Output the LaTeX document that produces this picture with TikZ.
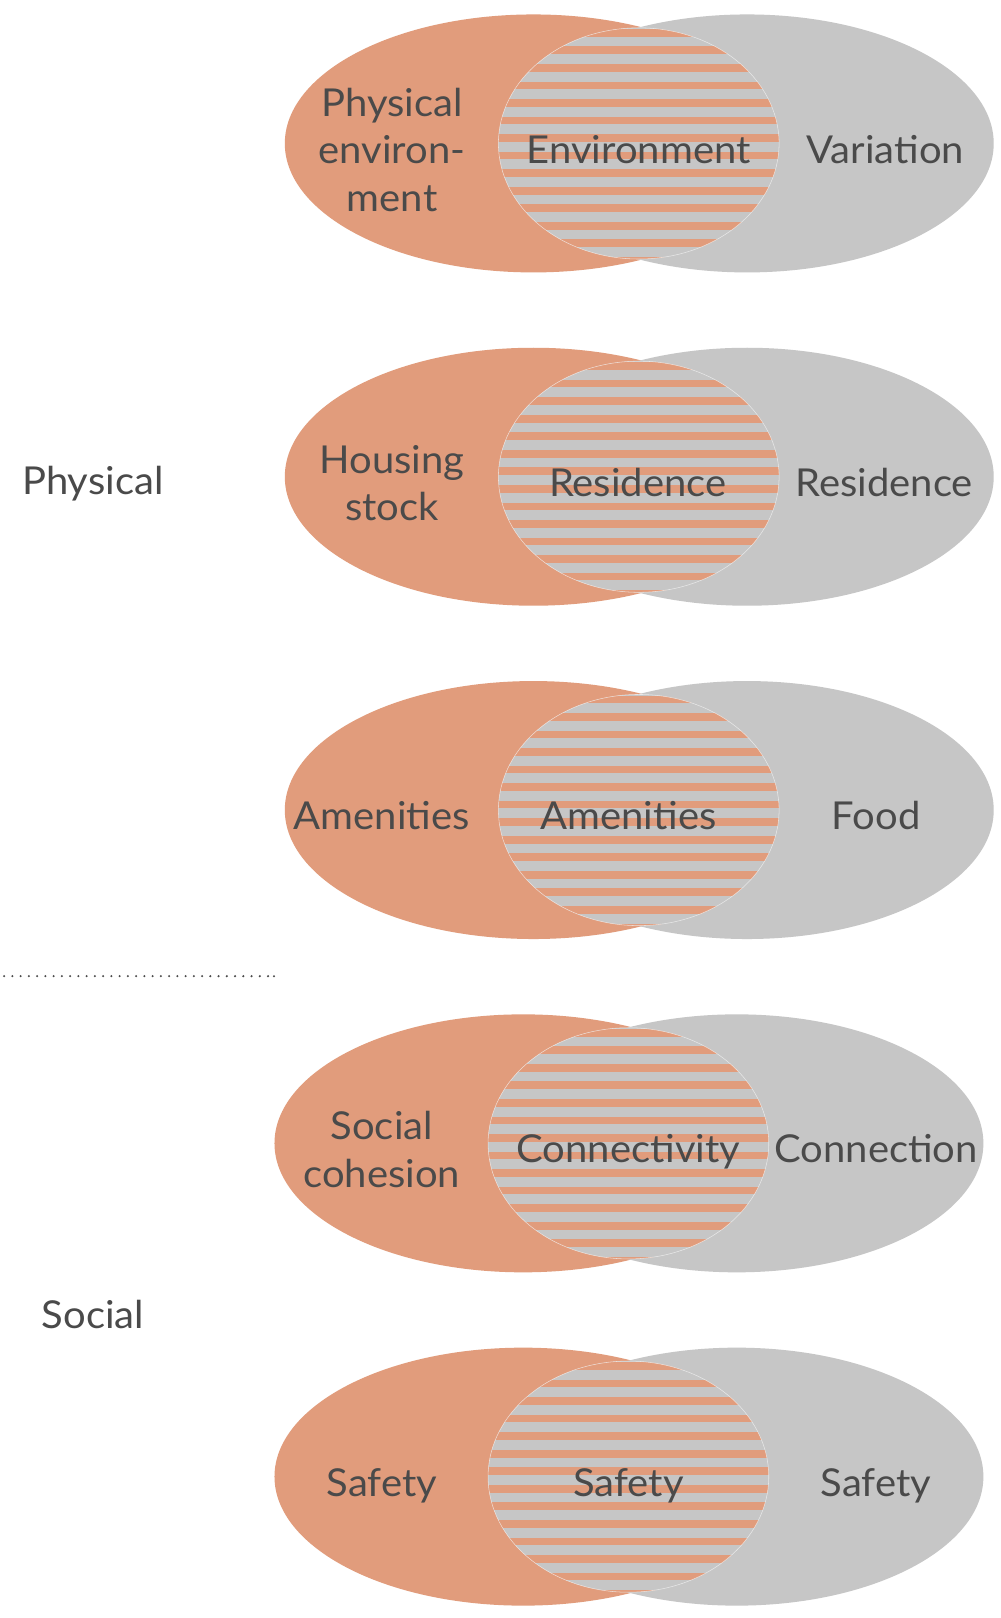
\documentclass[tikz,border=0pt]{standalone}
\usepackage{fontspec}
\setmainfont{Lato}[FakeStretch=1.04]
\definecolor{venorange}{HTML}{E19C7C}
\definecolor{vengray}{HTML}{C6C6C6}
\definecolor{txtgray}{HTML}{4A4A4A}
% #1 = x centre of striped ellipse, #2 = y centre (downward, displayed px)
\newcommand{\vennrow}[2]{%
  \fill[venorange] ({#1-102},{-#2}) ellipse [x radius=241, y radius=125];
  \fill[vengray] ({#1+105},{-#2}) ellipse [x radius=239, y radius=125];
  \begin{scope}
    \clip ({#1},{-#2}) ellipse [x radius=136, y radius=112];
    \fill[vengray] ({#1-140},{-#2-116}) rectangle ({#1+140},{-#2+116});
    \foreach \k in {-7,...,7}{
      \fill[venorange] ({#1-140},{-(#2-9+17*\k)}) rectangle ({#1+140},{-(#2-1.5+17*\k)});
    }
  \end{scope}
  \draw[white, opacity=0.6, line width=0.3pt] ({#1},{-#2}) ellipse [x radius=136, y radius=112];
}
\begin{document}
\begin{tikzpicture}[x=0.02cm, y=0.02cm,
  lbl/.style={text=txtgray, inner sep=0pt, font=\fontsize{21.2}{26.2}\selectfont},
  lblb/.style={lbl, anchor=base},
  lblm/.style={lbl, align=center, anchor=center}]
\useasboundingbox[fill=white] (0,0) rectangle (970,-1568);

\vennrow{619}{139}
\vennrow{619}{462}
\vennrow{619}{785}
\vennrow{609}{1108}
\vennrow{609}{1431}

% row 1
\node[lblm] (r1l) at (380,-145) {Physical\\environ-\\ment};
\node[lblb] (r1m) at (619,-158) {Environment};
\node[lblb] (r1r) at (858,-158) {Variation};
% row 2
\node[lblm] (r2l) at (380,-468) {Housing\\stock};
\node[lblb] (r2m) at (618,-481) {Residence};
\node[lblb] (r2r) at (857,-481) {Residence};
% row 3
\node[lblb] (r3l) at (370,-804) {Amenities};
\node[lblb] (r3m) at (609,-804) {Amenities};
\node[lblb] (r3r) at (849,-804) {Food};
% row 4
\node[lblm] (r4l) at (370,-1114) {Social\\cohesion};
\node[lblb] (r4m) at (609,-1127) {Connectivity};
\node[lblb] (r4r) at (849,-1127) {Connection};
% row 5
\node[lblb] (r5l) at (370,-1450) {Safety};
\node[lblb] (r5m) at (609,-1450) {Safety};
\node[lblb] (r5r) at (849,-1450) {Safety};

% side labels
\node[lblb] (phys) at (90,-479) {Physical};
\node[lblb] (soc) at (90,-1287) {Social};

% dotted divider
\coordinate (dl) at (4,-946);
\coordinate (dr) at (265.5,-946);
\draw[txtgray, line width=1.3pt, line cap=round, dash pattern=on 0pt off 4.55pt] (dl) -- (dr);
\fill[txtgray] (dr) circle (1.1);
\end{tikzpicture}
\end{document}
